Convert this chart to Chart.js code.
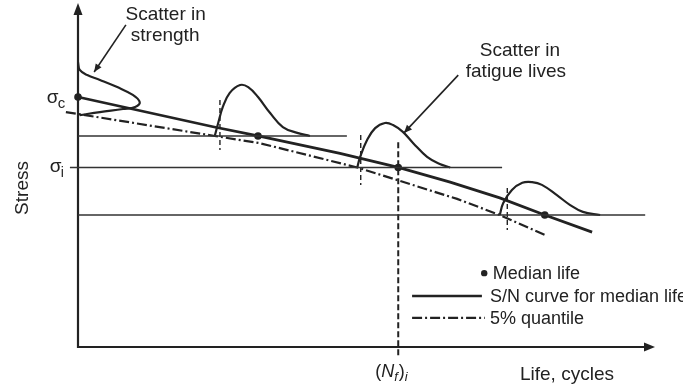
<!DOCTYPE html>
<html>
<head>
<meta charset="utf-8">
<script src="https://cdn.jsdelivr.net/npm/chart.js@4.4.0/dist/chart.umd.min.js"></script>
<style>
  body { margin: 0; background: #fff; }
  #wrap { width: 683px; height: 392px; position: relative; }
</style>
</head>
<body>
<div id="wrap"><canvas id="snChart"></canvas></div>
<script>
// Schematic S/N diagram, life and stress in arbitrary units (0..100)

// S/N curve for median life
const medianCurveLife   = [0, 23.4, 31.2, 45.4, 55.5, 64.5, 73.1, 80.9, 89.1];
const medianCurveStress = [73.1, 64.4, 61.7, 56.6, 52.5, 48.2, 43.6, 38.6, 33.6];

// 5% quantile curve
const quantileLife   = [-2.1, 23.7, 31.5, 48.4, 65.7, 73.1, 81.3];
const quantileStress = [68.7, 61.7, 59.6, 52.5, 43.3, 38.6, 32.5];

// stress levels tested, and the median life at each one
const stressLevels   = [61.7, 52.5, 38.6];
const medianLives    = [31.2, 55.5, 80.9];
const levelLineStart = [0, -1.4, 0];
const levelLineEnd   = [46.6, 73.5, 98.3];
const sigmaC = 73.1;

// short dashed marks near the 5% quantile at each level
const quantileMarkLife   = [24.6, 49.0, 74.4];
const quantileMarkTop    = [72.2, 62.0, 46.5];
const quantileMarkBottom = [57.6, 47.4, 34.2];

// (Nf)i guide line
const nfiLife = 55.5;
const nfiTop = 59.9;
const nfiBottom = -2.9;

// scatter in fatigue lives, one density curve per stress level
const lives1Life   = [23.7, 24.3, 25.1, 26.3, 28.1, 29.5, 31.2, 33.3, 35.5, 38.0, 40.2];
const lives1Stress = [61.7, 65.5, 70.2, 74.3, 76.6, 76.0, 73.1, 68.4, 64.3, 62.6, 61.7];
const lives2Life   = [48.4, 48.9, 50.1, 51.5, 53.2, 54.6, 56.3, 58.1, 60.5, 62.7, 64.5];
const lives2Stress = [52.5, 55.6, 60.5, 64.0, 65.5, 64.9, 62.9, 59.6, 55.6, 53.5, 52.5];
const lives3Life   = [73.1, 73.7, 75.2, 77.0, 78.7, 80.4, 83.0, 85.3, 87.5, 90.5];
const lives3Stress = [38.6, 42.1, 45.9, 48.0, 48.2, 47.4, 44.4, 41.5, 39.5, 38.6];

// scatter in strength, density drawn out from the stress axis
const strengthDensity = [0, 0.3, 1.6, 3.8, 6.8, 9.5, 10.7, 9.9, 7.8, 3.8, 0.3];
const strengthStress  = [83.3, 81.0, 79.5, 78.1, 76.0, 73.7, 71.6, 70.2, 69.6, 68.7, 67.8];

const ink = '#222';
const font = '"Liberation Sans", Arial, Helvetica, sans-serif';

function pts(xs, ys) {
    return xs.map((x, i) => ({ x: x, y: ys[i] }));
}

const datasets = [];
function addLine(data, opts) {
    datasets.push(Object.assign({
        data: data,
        showLine: true,
        borderColor: ink,
        borderWidth: 2,
        pointRadius: 0,
        fill: false,
        tension: 0,
        clip: false
    }, opts || {}));
}

// horizontal stress level lines
stressLevels.forEach((s, i) => {
    addLine([{ x: levelLineStart[i], y: s }, { x: levelLineEnd[i], y: s }], { borderWidth: 1.6, borderColor: '#333' });
});

// density curves
addLine(pts(strengthDensity, strengthStress), { tension: 0.4, borderWidth: 2.2 });
addLine(pts(lives1Life, lives1Stress), { tension: 0.4, borderWidth: 2.2 });
addLine(pts(lives2Life, lives2Stress), { tension: 0.4, borderWidth: 2.2 });
addLine(pts(lives3Life, lives3Stress), { tension: 0.4, borderWidth: 2.2 });

// dashed marks
quantileMarkLife.forEach((x, i) => {
    addLine([{ x: x, y: quantileMarkTop[i] }, { x: x, y: quantileMarkBottom[i] }], { borderWidth: 1.4, borderDash: [5, 3] });
});
addLine([{ x: nfiLife, y: nfiTop }, { x: nfiLife, y: nfiBottom }], { borderWidth: 2, borderDash: [6, 3] });

// curves
addLine(pts(quantileLife, quantileStress), { borderWidth: 2.2, borderDash: [10, 3, 2, 3] });
addLine(pts(medianCurveLife, medianCurveStress), { borderWidth: 2.8 });

// median life points (and sigma_c on the axis)
datasets.push({
    data: pts([0].concat(medianLives), [sigmaC].concat(stressLevels)),
    showLine: false,
    pointRadius: 3.8,
    pointBackgroundColor: ink,
    pointBorderWidth: 0,
    clip: false
});

function arrowHead(ctx, x1, y1, x2, y2, len, half) {
    const a = Math.atan2(y2 - y1, x2 - x1);
    ctx.beginPath();
    ctx.moveTo(x2, y2);
    ctx.lineTo(x2 - len * Math.cos(a) + half * Math.sin(a), y2 - len * Math.sin(a) - half * Math.cos(a));
    ctx.lineTo(x2 - len * Math.cos(a) - half * Math.sin(a), y2 - len * Math.sin(a) + half * Math.cos(a));
    ctx.closePath();
    ctx.fill();
}

const overlay = {
    id: 'overlay',
    beforeDatasetsDraw(chart) {
        const ctx = chart.ctx;
        const sx = chart.scales.x, sy = chart.scales.y;
        const x0 = sx.getPixelForValue(0), y0 = sy.getPixelForValue(0);
        const xEnd = sx.getPixelForValue(100), yEnd = sy.getPixelForValue(100);
        ctx.save();
        ctx.strokeStyle = ink;
        ctx.fillStyle = ink;
        ctx.lineWidth = 2.2;
        ctx.beginPath();
        ctx.moveTo(x0, yEnd + 8);
        ctx.lineTo(x0, y0);
        ctx.lineTo(xEnd - 8, y0);
        ctx.stroke();
        arrowHead(ctx, x0, y0, x0, yEnd - 2, 12, 4.5);
        arrowHead(ctx, x0, y0, xEnd, y0, 11, 4.5);
        ctx.restore();
    },
    afterDraw(chart) {
        const ctx = chart.ctx;
        const sx = chart.scales.x, sy = chart.scales.y;
        const X = v => sx.getPixelForValue(v);
        const Y = v => sy.getPixelForValue(v);
        ctx.save();
        ctx.strokeStyle = ink;
        ctx.fillStyle = ink;

        // pointer arrows
        ctx.lineWidth = 1.6;
        [[8.3, 94.2, 2.8, 80.4], [65.9, 79.5, 56.5, 62.6]].forEach(a => {
            ctx.beginPath();
            ctx.moveTo(X(a[0]), Y(a[1]));
            ctx.lineTo(X(a[2]), Y(a[3]));
            ctx.stroke();
            arrowHead(ctx, X(a[0]), Y(a[1]), X(a[2]), Y(a[3]), 8, 3.5);
        });

        const txt = (s, x, y, size, align, style) => {
            ctx.font = (style || '') + ' ' + size + 'px ' + font;
            ctx.textAlign = align || 'left';
            ctx.textBaseline = 'alphabetic';
            ctx.fillText(s, X(x), Y(y));
        };

        txt('Scatter in', 15.2, 95.6, 19, 'center');
        txt('strength', 15.1, 89.6, 19, 'center');
        txt('Scatter in', 76.6, 85.1, 19, 'center');
        txt('fatigue lives', 75.9, 78.9, 19, 'center');

        // stress symbols
        txt('σ', -5.4, 71.3, 19);
        txt('c', -3.5, 70.0, 15);
        txt('σ', -4.9, 51.2, 19);
        txt('i', -3.0, 49.7, 14);

        // axis titles
        ctx.save();
        ctx.translate(X(-8.7), Y(46.5));
        ctx.rotate(-Math.PI / 2);
        ctx.font = '19px ' + font;
        ctx.textAlign = 'center';
        ctx.fillText('Stress', 0, 0);
        ctx.restore();
        txt('Life, cycles', 76.6, -9.6, 19);

        // (Nf)i label
        let cx = X(51.5);
        const by = Y(-8.8);
        const piece = (s, size, style, dy) => {
            ctx.font = (style || '') + ' ' + size + 'px ' + font;
            ctx.textAlign = 'left';
            ctx.fillText(s, cx, by + dy);
            cx += ctx.measureText(s).width;
        };
        piece('(', 18, '', 0);
        piece('N', 18, 'italic', 0);
        piece('f', 13, 'italic', 4);
        cx += 1;
        piece(')', 18, '', 0);
        piece('i', 13, 'italic', 4);

        // legend
        ctx.beginPath();
        ctx.arc(X(70.4), Y(21.6), 3.2, 0, Math.PI * 2);
        ctx.fill();
        txt('Median life', 71.9, 19.9, 18);
        ctx.lineWidth = 2.6;
        ctx.beginPath();
        ctx.moveTo(X(57.9), Y(14.9));
        ctx.lineTo(X(70.0), Y(14.9));
        ctx.stroke();
        txt('S/N curve for median life', 71.4, 13.2, 18);
        ctx.lineWidth = 2.2;
        ctx.setLineDash([10, 3, 2, 3]);
        ctx.beginPath();
        ctx.moveTo(X(57.9), Y(8.5));
        ctx.lineTo(X(70.5), Y(8.5));
        ctx.stroke();
        ctx.setLineDash([]);
        txt('5% quantile', 71.4, 6.7, 18);
        ctx.restore();
    }
};

new Chart(document.getElementById('snChart').getContext('2d'), {
    type: 'scatter',
    data: { datasets: datasets },
    options: {
        responsive: true,
        maintainAspectRatio: false,
        animation: false,
        layout: { padding: { left: 78, right: 28, top: 5, bottom: 45 } },
        scales: {
            x: { type: 'linear', min: 0, max: 100, display: false },
            y: { type: 'linear', min: 0, max: 100, display: false }
        },
        plugins: {
            legend: { display: false },
            tooltip: { enabled: false }
        }
    },
    plugins: [overlay]
});
</script>
</body>
</html>
